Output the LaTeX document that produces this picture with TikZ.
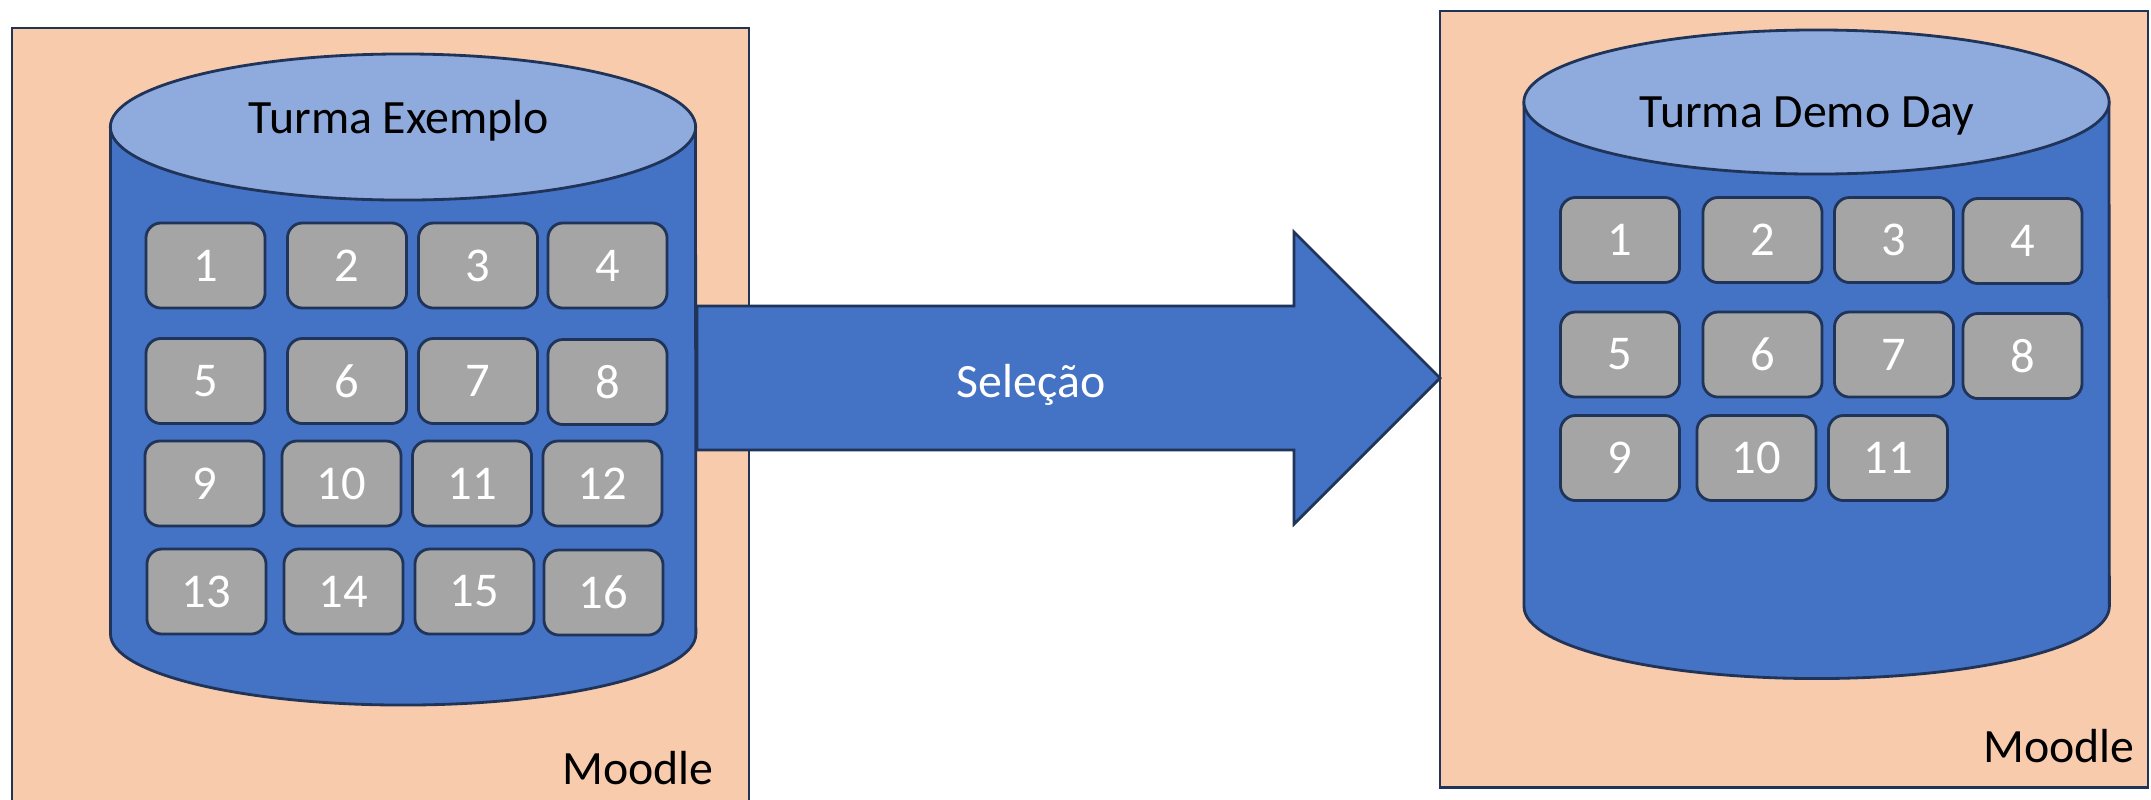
\documentclass[tikz,border=0pt]{standalone}
\usepackage{fontspec}
\setmainfont{Carlito}
\usetikzlibrary{calc}
\definecolor{peach}{HTML}{F8CBAD}
\definecolor{drumblue}{HTML}{4472C4}
\definecolor{lidblue}{HTML}{8FAADC}
\definecolor{tilegray}{HTML}{A5A5A5}
\definecolor{edgeblue}{HTML}{1F3458}
\begin{document}
\begin{tikzpicture}[x=0.01cm, y=-0.01cm,
  panel/.style={draw=edgeblue, fill=peach, line width=0.6pt, anchor=north west, inner sep=0pt, outer sep=0pt},
  drum/.style={draw=edgeblue, line width=0.8pt},
  tile/.style={draw=edgeblue, fill=tilegray, line width=0.8pt, rounded corners=0.15cm,
               minimum width=1.19cm, minimum height=0.85cm, inner sep=0pt, outer sep=0pt,
               text=white, font=\fontsize{13.8}{15}\selectfont},
  txt/.style={inner sep=0pt, font=\fontsize{13.6}{15}\selectfont},
  bigarrow/.style={draw=edgeblue, fill=drumblue, line width=0.8pt, line join=miter}]
\useasboundingbox (0,0) rectangle (2151,799);
\clip (0,0) rectangle (2151,799);

% Moodle panels
\node[panel, minimum width=7.37cm, minimum height=8.0cm] (boxL) at (12,28) {};
\node[panel, minimum width=7.08cm, minimum height=7.76cm] (boxR) at (1440,11) {};

% left drum
\fill[drumblue] (110.5,127) -- (110.5,634)
  arc[start angle=180, end angle=360, x radius=2.925cm, y radius=0.71cm] -- (695.5,127) -- cycle;
\draw[drum] (110.5,127) -- (110.5,634)
  arc[start angle=180, end angle=360, x radius=2.925cm, y radius=0.71cm] -- (695.5,127);
\draw[drum, fill=lidblue] (403,127) ellipse[x radius=2.925cm, y radius=0.73cm];
\node[txt] (titleL) at (399,121) {Turma Exemplo};

% right drum
\fill[drumblue] (1524,102) -- (1524,606.5)
  arc[start angle=180, end angle=360, x radius=2.925cm, y radius=0.72cm] -- (2109,102) -- cycle;
\draw[drum] (1524,102) -- (1524,606.5)
  arc[start angle=180, end angle=360, x radius=2.925cm, y radius=0.72cm] -- (2109,102);
\draw[drum, fill=lidblue] (1816.5,102) ellipse[x radius=2.925cm, y radius=0.72cm];
\node[txt] (titleR) at (1807,116) {Turma Demo Day};

% left tiles
\node[tile] (l1)  at (205.5,265.5) {1};
\node[tile] (l2)  at (347,265.5) {2};
\node[tile] (l3)  at (478,265.5) {3};
\node[tile] (l4)  at (607.5,265.5) {4};
\node[tile] (l5)  at (205.5,381) {5};
\node[tile] (l6)  at (347,381) {6};
\node[tile] (l7)  at (478,381) {7};
\node[tile] (l8)  at (607.5,382) {8};
\node[tile] (l9)  at (204.5,483.5) {9};
\node[tile] (l10) at (341.5,483.5) {10};
\node[tile] (l11) at (472,483.5) {11};
\node[tile] (l12) at (602.5,483.5) {12};
\node[tile] (l13) at (206.5,591.5) {13};
\node[tile] (l14) at (343.5,591.5) {14};
\node[tile] (l15) at (474.5,591.5) {15};
\node[tile] (l16) at (603.5,592.5) {16};

% right tiles
\node[tile] (r1)  at (1620,240) {1};
\node[tile] (r2)  at (1762.5,240) {2};
\node[tile] (r3)  at (1894,240) {3};
\node[tile] (r4)  at (2022.5,241) {4};
\node[tile] (r5)  at (1620,354.5) {5};
\node[tile] (r6)  at (1762.5,354.5) {6};
\node[tile] (r7)  at (1894,354.5) {7};
\node[tile] (r8)  at (2022.5,356) {8};
\node[tile] (r9)  at (1620,458) {9};
\node[tile] (r10) at (1756.5,458) {10};
\node[tile] (r11) at (1888,458) {11};

% selection arrow from the left drum to the right panel
\coordinate (tail) at (697,378);
\coordinate (tip) at (boxR.north west |- tail);
\draw[bigarrow] ($(tail)+(0,-72)$) -- ($(tip)+(-146,-72)$) -- ($(tip)+(-146,-146)$)
  -- (tip) -- ($(tip)+(-146,146)$) -- ($(tip)+(-146,72)$) -- ($(tail)+(0,72)$) -- cycle;
\node[txt, text=white] (sel) at (1031,385) {Seleção};

% panel labels
\node[txt] (moodleL) at (638,768) {Moodle};
\node[txt] (moodleR) at (2059,746) {Moodle};
\end{tikzpicture}
\end{document}
